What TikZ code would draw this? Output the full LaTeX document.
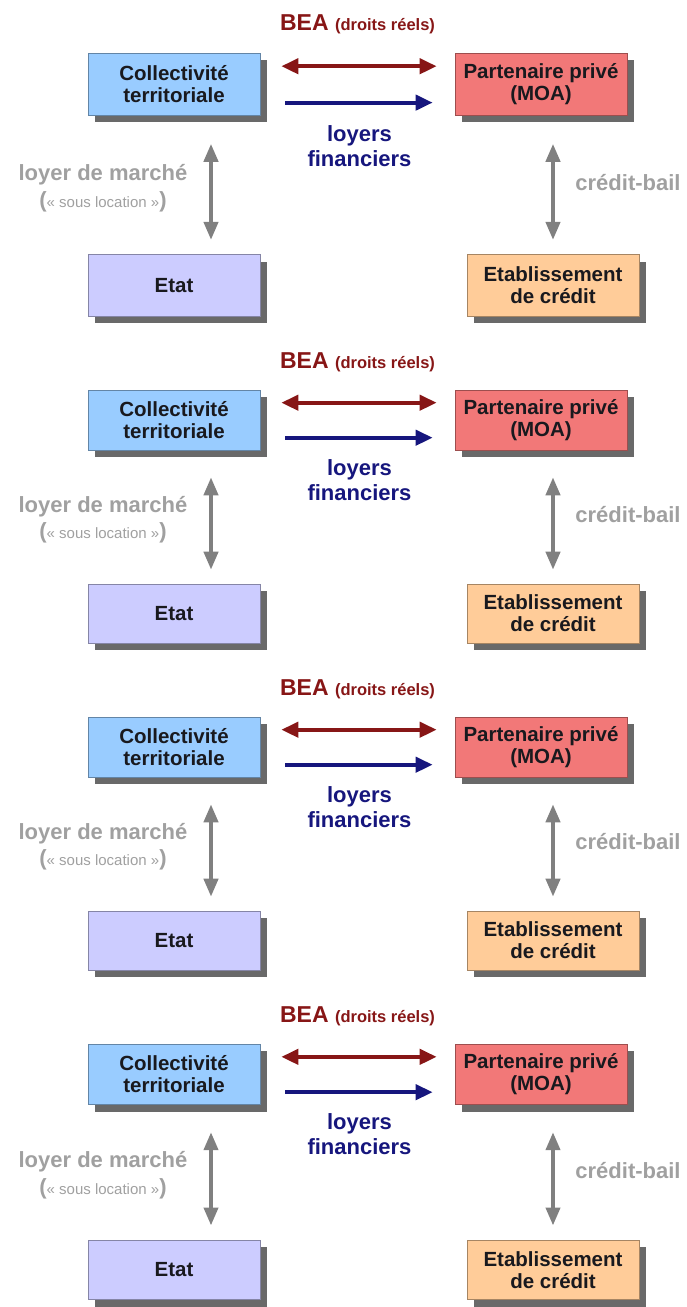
\documentclass[tikz,border=0pt]{standalone}
\usepackage{fontspec}
\setmainfont{Liberation Sans}
\usetikzlibrary{arrows.meta,shadows,calc}
\definecolor{collblue}{RGB}{153,204,255}
\definecolor{partred}{RGB}{242,120,120}
\definecolor{etatviolet}{RGB}{204,204,255}
\definecolor{etaborange}{RGB}{255,204,153}
\definecolor{beared}{RGB}{135,22,22}
\definecolor{loyblue}{RGB}{22,22,125}
\definecolor{arrowgray}{RGB}{128,128,128}
\definecolor{labelgray}{RGB}{160,160,160}
\definecolor{shadowgray}{RGB}{105,105,105}
\definecolor{boxtext}{RGB}{25,25,30}
\tikzset{
  box/.style={draw=#1!65!black, line width=0.6pt, fill=#1, minimum width=172pt,
    align=center, text=boxtext, font=\bfseries\fontsize{20.5}{22}\selectfont,
    drop shadow={shadow xshift=7pt, shadow yshift=-7pt, fill=shadowgray, opacity=1}},
  beaarrow/.style={draw=beared, line width=4pt, {Triangle[length=17pt,width=15pt]}-{Triangle[length=17pt,width=15pt]}},
  loyarrow/.style={draw=loyblue, line width=4pt, -{Triangle[length=17pt,width=15pt]}},
  grayarrow/.style={draw=arrowgray, line width=4pt, {Triangle[length=18pt,width=14pt]}-{Triangle[length=18pt,width=14pt]}},
  graylabel/.style={text=labelgray, font=\bfseries\fontsize{22}{22}\selectfont, inner sep=0pt},
}
\begin{document}
\begin{tikzpicture}[x=1pt,y=-1pt]
\useasboundingbox (0,0) rectangle (686,1307);
\foreach \t/\s/\i in {53/1.04/1, 390/1/2, 717/1/3, 1044/1.01/4}{
  \node[box=collblue, minimum height={60pt*\s}] (coll\i) at (174,{\t+30*\s}) {Collectivité\\territoriale};
  \node[box=partred, minimum height={60pt*\s}] (part\i) at (541,{\t+30*\s}) {Partenaire privé\\(MOA)};
  \node[box=etatviolet, minimum height={59pt*\s}] (etat\i) at (174,{\t+223.5*\s}) {Etat};
  \node[box=etaborange, minimum height={59pt*\s}] (etab\i) at (553,{\t+223.5*\s}) {Etablissement\\de crédit};
  \draw[beaarrow] ($(coll\i.north east)+(21,{13*\s})$) -- ($(part\i.north west)+(-18,{13*\s})$);
  \draw[loyarrow] ($(coll\i.north east)+(25,{48*\s})$) -- ($(part\i.north west)+(-22,{48*\s})$);
  \draw[grayarrow] ($(coll\i.south)+(37,{27*\s})$) -- ($(etat\i.north)+(37,{-14*\s})$);
  \draw[grayarrow] ($(part\i.south)+(12,{27*\s})$) -- ($(etab\i.north)+(0,{-14*\s})$);
  \node[text=beared, inner sep=0pt] (bea\i) at ($(coll\i.north east)!0.5!(part\i.north west)+(0,{-27*\s})$)
    {\bfseries\fontsize{23}{23}\selectfont BEA \fontsize{16.5}{16.5}\selectfont(droits réels)};
  \node[text=loyblue, align=center, inner sep=0pt, font=\bfseries\fontsize{22}{25}\selectfont] (loy\i)
    at ($(coll\i.north east)!0.5!(part\i.north west)+(2,{90*\s})$) {loyers\\financiers};
  \node[graylabel] (lm\i) at (103,{\t+117*\s}) {loyer de marché};
  \node[graylabel] (sl\i) at (103,{\t+143*\s}) {(\mdseries\fontsize{15}{16}\selectfont« sous location »\bfseries\fontsize{22}{22}\selectfont)};
  \node[graylabel] (cb\i) at (628,{\t+125*\s}) {crédit-bail};
}
\end{tikzpicture}
\end{document}
